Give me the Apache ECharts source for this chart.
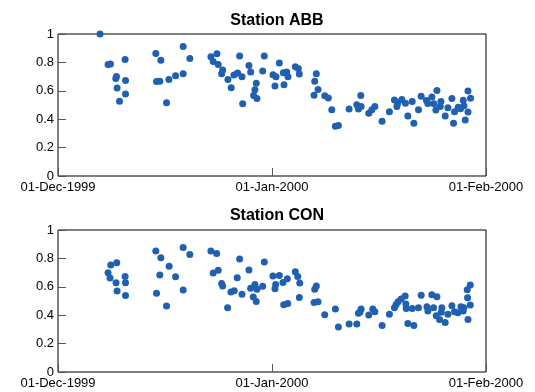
<!DOCTYPE html>
<html>
<head>
<meta charset="utf-8">
<script src="https://cdn.jsdelivr.net/npm/echarts@6/dist/echarts.min.js"></script>
<style>html,body{margin:0;padding:0;background:#fff}#c{width:535px;height:392px}</style>
</head>
<body>
<div id="c"></div>
<script>
// x values: days since 01-Dec-1999
var titles = ['Station ABB', 'Station CON'];
var xTickLabels = ['01-Dec-1999', '01-Jan-2000', '01-Feb-2000'];
var yTickLabels = ['0', '0.2', '0.4', '0.6', '0.8', '1'];

var abbDays = [6.09,7.25,7.60,9.72,8.47,8.37,9.78,8.56,9.78,8.91,14.17,14.90,18.13,19.10,14.27,14.75,16.06,17.03,18.13,15.72,
 22.15,23.02,22.48,23.21,23.85,23.70,24.62,25.09,25.49,26.02,26.65,26.31,26.75,27.66,27.91,28.72,28.53,28.34,28.82,29.88,
 29.65,31.14,31.58,31.43,32.06,32.64,33.13,33.32,32.74,34.38,34.81,34.96,37.42,37.19,37.67,37.09,38.64,39.16,39.66,40.18,40.62,
 42.17,43.28,43.86,43.52,43.91,45.02,45.46,45.90,46.95,48.01,48.74,49.09,49.23,49.81,50.33,50.68,51.31,51.55,52.22,52.61,
 53.38,53.58,54.16,54.89,54.45,54.74,55.47,55.37,56.09,56.48,57.06,57.44,57.30,57.98,58.31,58.70,58.80,59.39,59.76,59.39,58.99];
var abbValues = [1.0,0.786,0.788,0.82,0.70,0.687,0.673,0.62,0.577,0.527,0.863,0.816,0.912,0.828,0.666,0.668,0.68,0.706,0.72,0.515,
 0.84,0.861,0.807,0.786,0.746,0.72,0.68,0.621,0.711,0.725,0.699,0.845,0.508,0.778,0.732,0.654,0.607,0.567,0.546,0.845,
 0.739,0.713,0.699,0.633,0.795,0.727,0.732,0.699,0.642,0.769,0.757,0.718,0.72,0.668,0.609,0.569,0.565,0.55,0.466,0.351,0.355,
 0.471,0.501,0.567,0.471,0.489,0.442,0.466,0.489,0.386,0.452,0.536,0.489,0.515,0.539,0.513,0.423,0.524,0.372,0.466,0.562,
 0.531,0.51,0.557,0.602,0.508,0.464,0.524,0.489,0.423,0.48,0.546,0.452,0.372,0.485,0.473,0.534,0.494,0.598,0.548,0.45,0.395];

var conDays = [7.64,8.51,7.25,7.54,8.41,9.72,9.78,8.56,9.78,14.17,14.90,18.13,19.10,16.10,14.75,17.03,14.27,18.13,15.72,
 22.15,22.98,26.31,29.88,22.48,23.21,27.66,23.70,23.85,25.96,25.05,25.53,26.65,24.57,27.91,28.53,28.82,29.65,28.29,28.72,
 31.14,32.06,31.53,31.43,32.59,33.22,32.70,33.28,34.38,34.73,35.02,34.96,37.42,37.19,37.09,37.67,38.64,40.18,40.62,
 42.17,43.28,43.52,43.91,43.76,45.02,45.60,45.90,46.95,48.01,48.74,48.98,49.27,49.71,50.29,50.39,50.44,50.68,51.31,51.55,
 52.22,52.61,53.44,53.58,54.16,54.89,54.40,54.79,55.27,55.61,55.51,56.09,56.48,57.06,57.44,57.93,58.37,58.70,59.28,59.72,
 59.33,59.72,59.39,58.80];
var conValues = [0.753,0.77,0.699,0.662,0.629,0.673,0.629,0.570,0.539,0.852,0.805,0.877,0.828,0.744,0.683,0.671,0.554,0.577,0.465,
 0.852,0.835,0.796,0.775,0.697,0.716,0.718,0.624,0.606,0.664,0.563,0.573,0.547,0.453,0.589,0.617,0.582,0.603,0.528,0.497,
 0.676,0.68,0.617,0.587,0.631,0.657,0.474,0.483,0.706,0.673,0.627,0.525,0.606,0.582,0.490,0.495,0.404,0.444,0.317,
 0.338,0.338,0.413,0.444,0.423,0.401,0.444,0.425,0.328,0.406,0.453,0.476,0.495,0.514,0.535,0.479,0.448,0.342,0.448,0.328,
 0.453,0.54,0.46,0.43,0.544,0.53,0.453,0.396,0.37,0.453,0.42,0.349,0.406,0.467,0.425,0.418,0.46,0.43,0.58,0.613,
 0.523,0.472,0.37,0.453];

function zip(a, b) { return a.map(function (v, i) { return [v, b[i]]; }); }

var FONT = 'Liberation Sans';
var TL = 4;
var TICK = { show: true, inside: false, length: TL, lineStyle: { color: '#555', width: 1 } };
var NOLINE = { show: false };
var grids = [
  { left: 58, top: 34, width: 428, height: 142, show: true, borderColor: '#000', borderWidth: 1 },
  { left: 58, top: 230, width: 428, height: 142, show: true, borderColor: '#000', borderWidth: 1 }
];
var xAxes = [], yAxes = [];
[0, 1].forEach(function (g) {
  xAxes.push({
    type: 'value', gridIndex: g, min: 0, max: 62, interval: 31, position: 'bottom', offset: -TL,
    axisLine: NOLINE, axisTick: TICK, splitLine: { show: false },
    axisLabel: {
      show: true, margin: 5 + TL, color: '#000', fontFamily: FONT, fontSize: 13,
      showMinLabel: true, showMaxLabel: true,
      formatter: function (v) { return xTickLabels[Math.round(v / 31)]; }
    }
  });
  xAxes.push({
    type: 'value', gridIndex: g, min: 0, max: 62, interval: 31, position: 'top', offset: -TL,
    axisLine: NOLINE, axisTick: TICK, splitLine: { show: false }, axisLabel: { show: false }
  });
  yAxes.push({
    type: 'value', gridIndex: g, min: 0, max: 1, interval: 0.2, position: 'left', offset: -TL,
    axisLine: NOLINE, axisTick: TICK, splitLine: { show: false },
    axisLabel: {
      show: true, margin: 4 + TL, color: '#000', fontFamily: FONT, fontSize: 13,
      formatter: function (v) { return yTickLabels[Math.round(v / 0.2)]; }
    }
  });
  yAxes.push({
    type: 'value', gridIndex: g, min: 0, max: 1, interval: 0.2, position: 'right', offset: -TL,
    axisLine: NOLINE, axisTick: TICK, splitLine: { show: false }, axisLabel: { show: false }
  });
});

var chart = echarts.init(document.getElementById('c'), null, { renderer: 'canvas' });
chart.setOption({
  animation: false,
  backgroundColor: '#fff',
  title: [
    { text: titles[0], left: 272, top: 8, textAlign: 'center', textStyle: { fontFamily: FONT, fontSize: 16, fontWeight: 'bold', color: '#000' } },
    { text: titles[1], left: 272, top: 203, textAlign: 'center', textStyle: { fontFamily: FONT, fontSize: 16, fontWeight: 'bold', color: '#000' } }
  ],
  grid: grids,
  xAxis: xAxes,
  yAxis: yAxes,
  series: [
    { type: 'scatter', xAxisIndex: 0, yAxisIndex: 0, data: zip(abbDays, abbValues), symbol: 'circle', symbolSize: 7, itemStyle: { color: '#2060b0', opacity: 1 } },
    { type: 'scatter', xAxisIndex: 2, yAxisIndex: 2, data: zip(conDays, conValues), symbol: 'circle', symbolSize: 7, itemStyle: { color: '#2060b0', opacity: 1 } }
  ]
});
</script>
</body>
</html>
